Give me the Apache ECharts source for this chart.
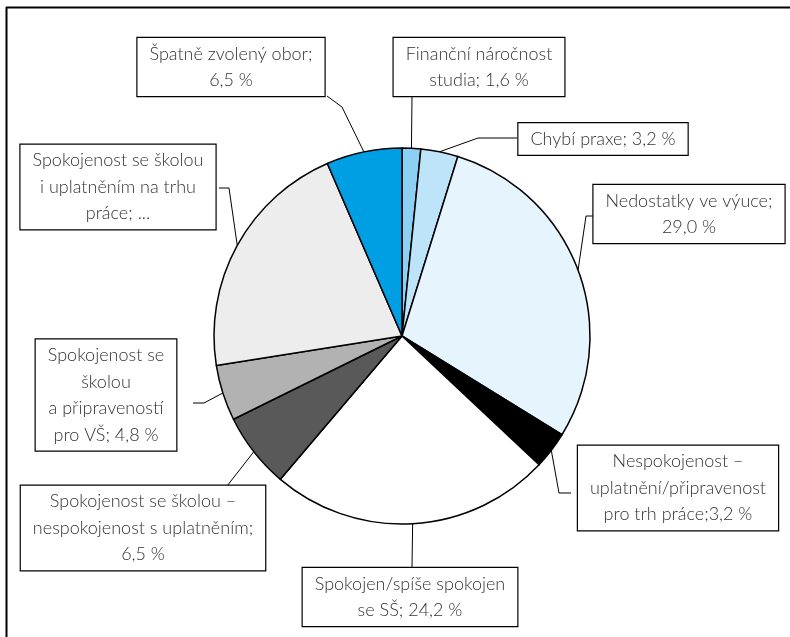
<!DOCTYPE html>
<html>
<head>
<meta charset="utf-8">
<script src="https://cdn.jsdelivr.net/npm/echarts@6/dist/echarts.min.js"></script>
<style>
html,body{margin:0;padding:0;background:#fff;}
#chart{width:790px;height:637px;}
</style>
</head>
<body>
<div id="chart"></div>
<script>
// ---- data ----
var categories = [
  "Finanční náročnost studia",
  "Chybí praxe",
  "Nedostatky ve výuce",
  "Nespokojenost – uplatnění/připravenost pro trh práce",
  "Spokojen/spíše spokojen se SŠ",
  "Spokojenost se školou – nespokojenost s uplatněním",
  "Spokojenost se školou a připraveností pro VŠ",
  "Spokojenost se školou i uplatněním na trhu práce",
  "Špatně zvolený obor"
];
var values = [1.6, 3.2, 29.0, 3.2, 24.2, 6.5, 4.8, 21.0, 6.5];
// label text as printed on the chart (value appended)
var labelPrefix = [
  "Finanční náročnost\nstudia; ",
  "Chybí praxe; ",
  "Nedostatky ve výuce;\n",
  "Nespokojenost –\nuplatnění/připravenost\npro trh práce;",
  "Spokojen/spíše spokojen\nse SŠ; ",
  "Spokojenost se školou –\nnespokojenost s uplatněním;\n",
  "Spokojenost se\nškolou\na připraveností\npro VŠ; ",
  "Spokojenost se školou\ni uplatněním na trhu\npráce; ",
  "Špatně zvolený obor;\n"
];
var truncated = [false, false, false, false, false, false, false, true, false];
var colors = ["#8CD1F4", "#BDE4F8", "#E6F4FD", "#000000", "#FFFFFF", "#595959", "#B2B2B2", "#EDEDED", "#009FE3"];

// ---- label box placement (centres, px) ----
var labelPos = [
  [479, 67], [603, 139], [689, 214], [678, 488], [410, 597],
  [143, 528], [106, 395], [118, 187], [231, 67]
];
// leader line routing: [elbow point or null, attachment point on box]
var leaderRoute = [
  [null, [412, 96]],
  [[478, 138], [517, 138]],
  [[586, 216], [593, 216]],
  [[559, 493], [571, 493]],
  [null, [412, 568]],
  [null, [227, 486]],
  [[204, 403], [193, 403]],
  [[229, 188], [219, 188]],
  [[342, 107], [327, 96]]
];

function fmt(v) { return v.toFixed(1).replace(".", ",") + " %"; }

var chart = echarts.init(document.getElementById("chart"), null, {renderer: "canvas"});
var data = categories.map(function (c, i) {
  return {name: c, value: values[i], itemStyle: {color: colors[i]}};
});

var frame = [
  {type: "line", shape: {x1: 6, y1: 7.5, x2: 790, y2: 7.5}, style: {stroke: "#000", lineWidth: 2}},
  {type: "line", shape: {x1: 6.5, y1: 7, x2: 6.5, y2: 637}, style: {stroke: "#000", lineWidth: 2}}
];

chart.setOption({
  animation: false,
  backgroundColor: "#fff",
  graphic: frame,
  series: [{
    type: "pie",
    center: [402, 336],
    radius: 188,
    startAngle: 90,
    clockwise: true,
    avoidLabelOverlap: false,
    data: data,
    z: 2,
    itemStyle: {borderColor: "#000", borderWidth: 1.5},
    label: {
      show: true,
      position: "outside",
      formatter: function (p) {
        return labelPrefix[p.dataIndex] + (truncated[p.dataIndex] ? "..." : fmt(p.value));
      },
      fontFamily: "Lato",
      fontWeight: 300,
      fontSize: 18,
      lineHeight: 26.5,
      color: "#333",
      backgroundColor: "#fff",
      borderColor: "#000",
      borderWidth: 1.2,
      padding: [3, 12, 2, 12],
      align: "center"
    },
    labelLine: {show: false},
    labelLayout: function (p) {
      var pos = labelPos[p.dataIndex];
      return {x: pos[0], y: pos[1], align: "center", verticalAlign: "middle"};
    },
    emphasis: {disabled: true}
  }]
});

// leader lines: start on the slice edge at its mid angle, taken from the library's pie layout
var sData = chart.getModel().getSeriesByIndex(0).getData();
var leaders = [];
for (var i = 0; i < values.length; i++) {
  var lay = sData.getItemLayout(i);
  var mid = (lay.startAngle + lay.endAngle) / 2;
  var start = [lay.cx + lay.r * Math.cos(mid), lay.cy + lay.r * Math.sin(mid)];
  var pts = [start];
  if (leaderRoute[i][0]) pts.push(leaderRoute[i][0]);
  pts.push(leaderRoute[i][1]);
  leaders.push({type: "polyline", z: 1, shape: {points: pts}, style: {stroke: "#000", lineWidth: 1, fill: null}});
}
chart.setOption({graphic: frame.concat(leaders)});
</script>
</body>
</html>
